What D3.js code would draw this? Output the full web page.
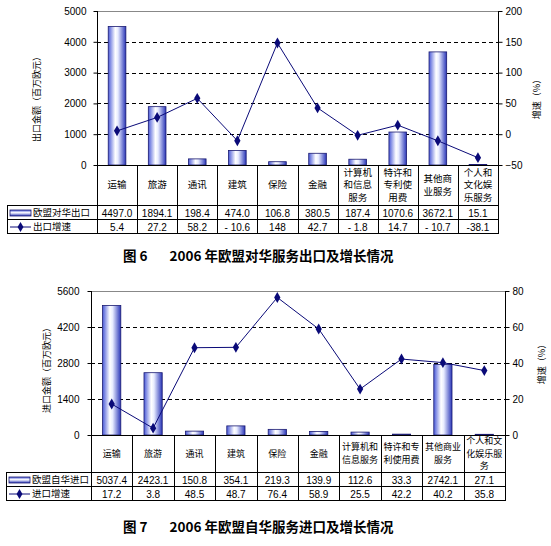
<!DOCTYPE html>
<html><head><meta charset="utf-8">
<script src="https://cdn.jsdelivr.net/npm/d3@7/dist/d3.min.js"></script>
<style>
body{margin:0;background:#fff;}
svg{display:block;font-family:"Noto Sans CJK SC","DejaVu Sans",sans-serif;}
</style></head>
<body><svg id="c" width="551" height="546"></svg>
<script>
// ---- Data ----
const exportCategories = ["运输","旅游","通讯","建筑","保险","金融","计算机\n和信息\n服务","特许和\n专利使\n用费","其他商\n业服务","个人和\n文化娱\n乐服务"];
const exportValues = [4497.0,1894.1,198.4,474.0,106.8,380.5,187.4,1070.6,3672.1,15.1];
const exportValueLabels = ["4497.0","1894.1","198.4","474.0","106.8","380.5","187.4","1070.6","3672.1","15.1"];
const exportGrowth = [5.4,27.2,58.2,-10.6,148,42.7,-1.8,14.7,-10.7,-38.1];
const exportGrowthLabels = ["5.4","27.2","58.2","- 10.6","148","42.7","- 1.8","14.7","- 10.7","-38.1"];
const exportLeftTicks = [0,1000,2000,3000,4000,5000];
const exportRightTicks = [-50,0,50,100,150,200];

const importCategories = ["运输","旅游","通讯","建筑","保险","金融","计算机和\n信息服务","特许和专\n利使用费","其他商业\n服务","个人和文\n化娱乐服\n务"];
const importValues = [5037.4,2423.1,150.8,354.1,219.3,139.9,112.6,33.3,2742.1,27.1];
const importValueLabels = ["5037.4","2423.1","150.8","354.1","219.3","139.9","112.6","33.3","2742.1","27.1"];
const importGrowth = [17.2,3.8,48.5,48.7,76.4,58.9,25.5,42.2,40.2,35.8];
const importGrowthLabels = ["17.2","3.8","48.5","48.7","76.4","58.9","25.5","42.2","40.2","35.8"];
const importLeftTicks = [0,1400,2800,4200,5600];
const importRightTicks = [0,20,40,60,80];

const svg = d3.select("#c");
const defs = svg.append("defs");
const g1 = defs.append("linearGradient").attr("id","barGrad").attr("x1","0").attr("x2","1").attr("y1","0").attr("y2","0");
[["0%","#4a5ad8"],["40%","#ffffff"],["55%","#e8ecff"],["100%","#2a36b8"]].forEach(s=>g1.append("stop").attr("offset",s[0]).attr("stop-color",s[1]));
const g2 = defs.append("linearGradient").attr("id","legGrad").attr("x1","0").attr("x2","0").attr("y1","0").attr("y2","1");
[["0%","#4a5ad8"],["45%","#ffffff"],["100%","#2a36b8"]].forEach(s=>g2.append("stop").attr("offset",s[0]).attr("stop-color",s[1]));

const LINE = "#0a0a78";
const NUMFONT = "Arial, 'Liberation Sans', sans-serif";

function drawChart(cfg){
  const g = svg.append("g");
  const n = cfg.cats.length;
  const x = d3.scaleBand().domain(d3.range(n)).range([cfg.left,cfg.right]).paddingInner(0).paddingOuter(0);
  const yL = d3.scaleLinear().domain([cfg.leftTicks[0],cfg.leftTicks[cfg.leftTicks.length-1]]).range([cfg.bottom,cfg.top]);
  const yR = d3.scaleLinear().domain([cfg.rightTicks[0],cfg.rightTicks[cfg.rightTicks.length-1]]).range([cfg.bottom,cfg.top]);

  // top border
  g.append("line").attr("x1",cfg.left).attr("x2",cfg.right).attr("y1",cfg.top+0.5).attr("y2",cfg.top+0.5).attr("stroke","#888");
  // gridlines
  g.selectAll(".grid").data(cfg.leftTicks.slice(1,-1)).join("line")
    .attr("x1",cfg.left).attr("x2",cfg.right)
    .attr("y1",d=>Math.round(yL(d))+0.5).attr("y2",d=>Math.round(yL(d))+0.5)
    .attr("stroke","#000").attr("stroke-dasharray","4,3");

  // bars
  const bw = x.bandwidth()*0.44;
  g.selectAll(".bar").data(cfg.values).join("rect")
    .attr("x",(d,i)=>x(i)+(x.bandwidth()-bw)/2).attr("width",bw)
    .attr("y",d=>yL(d)).attr("height",d=>cfg.bottom-yL(d))
    .attr("fill","url(#barGrad)").attr("stroke","#1a1a70").attr("stroke-width",0.8);

  // axes
  const axL = d3.axisLeft(yL).tickValues(cfg.leftTicks).tickFormat(d3.format("d")).tickSize(4).tickPadding(cfg.leftPad);
  const gL = g.append("g").attr("transform",`translate(${cfg.left+0.5},0)`).call(axL);
  gL.select(".domain").remove();
  gL.selectAll("text").attr("font-size",10).attr("font-family",NUMFONT).attr("fill","#000");
  const axR = d3.axisRight(yR).tickValues(cfg.rightTicks).tickFormat(d3.format("d")).tickSize(4).tickPadding(cfg.rightPad);
  const gR = g.append("g").attr("transform",`translate(${cfg.right+0.5},0)`).call(axR);
  gR.select(".domain").remove();
  gR.selectAll("text").attr("font-size",10).attr("font-family",NUMFONT).attr("fill","#000");

  // line
  const line = d3.line().x((d,i)=>x(i)+x.bandwidth()/2).y(d=>yR(d));
  g.append("path").datum(cfg.growth).attr("d",line).attr("fill","none").attr("stroke",LINE).attr("stroke-width",1);
  g.selectAll(".pt").data(cfg.growth).join("path")
    .attr("d",d3.symbol(d3.symbolDiamond,34))
    .attr("transform",(d,i)=>`translate(${x(i)+x.bandwidth()/2},${yR(d)})`)
    .attr("fill",LINE);

  // table lines
  const S = "#000";
  const hl = (y,x1,x2)=>g.append("line").attr("x1",x1).attr("x2",x2).attr("y1",Math.round(y)+0.5).attr("y2",Math.round(y)+0.5).attr("stroke",S);
  const vl = (xx,y1,y2)=>g.append("line").attr("x1",Math.round(xx)+0.5).attr("x2",Math.round(xx)+0.5).attr("y1",y1).attr("y2",y2).attr("stroke",S);
  hl(cfg.bottom,cfg.left,cfg.right);
  hl(cfg.catBottom,cfg.tableLeft,cfg.right);
  hl(cfg.row1Bottom,cfg.tableLeft,cfg.right);
  hl(cfg.row2Bottom,cfg.tableLeft,cfg.right+1);
  vl(cfg.left,cfg.top,cfg.row2Bottom);
  vl(cfg.right,cfg.top,cfg.row2Bottom);
  vl(cfg.tableLeft,cfg.catBottom,cfg.row2Bottom);
  d3.range(1,n).forEach(i=>vl(x(i),cfg.bottom,cfg.row2Bottom));

  // category labels
  const catMid = (cfg.bottom+cfg.catBottom)/2;
  cfg.cats.forEach((c,i)=>{
    const lines = c.split("\n");
    const lh = cfg.lineH;
    lines.forEach((t,k)=>{
      g.append("text").attr("x",x(i)+x.bandwidth()/2)
        .attr("y",catMid+(k-(lines.length-1)/2)*lh)
        .attr("dy","0.36em").attr("text-anchor","middle").attr("font-size",cfg.catFont).text(t);
    });
  });
  // value rows
  const r1 = (cfg.catBottom+cfg.row1Bottom)/2+1, r2 = (cfg.row1Bottom+cfg.row2Bottom)/2+1;
  cfg.valueLabels.forEach((v,i)=>g.append("text").attr("x",x(i)+x.bandwidth()/2).attr("y",r1).attr("dy","0.36em")
    .attr("text-anchor","middle").attr("font-size",10).attr("font-family",NUMFONT).text(v));
  cfg.growthLabels.forEach((v,i)=>g.append("text").attr("x",x(i)+x.bandwidth()/2).attr("y",r2).attr("dy","0.36em")
    .attr("text-anchor","middle").attr("font-size",10).attr("font-family",NUMFONT).text(v));

  // legend
  const lx = cfg.tableLeft+3;
  g.append("rect").attr("x",lx).attr("y",r1-3).attr("width",21).attr("height",6)
    .attr("fill","url(#legGrad)").attr("stroke","#1a1a70").attr("stroke-width",0.8);
  g.append("text").attr("x",lx+23).attr("y",r1).attr("dy","0.36em").attr("font-size",9.5).text(cfg.barName);
  g.append("line").attr("x1",lx).attr("x2",lx+21).attr("y1",r2).attr("y2",r2).attr("stroke",LINE);
  g.append("path").attr("d",d3.symbol(d3.symbolDiamond,30)).attr("transform",`translate(${lx+10.5},${r2})`).attr("fill",LINE);
  g.append("text").attr("x",lx+23).attr("y",r2).attr("dy","0.36em").attr("font-size",9.5).text(cfg.lineName);

  // axis titles
  g.append("text").attr("transform",`translate(${cfg.leftTitleX},${cfg.leftTitleY}) rotate(-90)`)
    .attr("text-anchor","middle").attr("dy","0.36em").attr("font-size",9).text(cfg.leftTitle);
  g.append("text").attr("transform",`translate(${cfg.rightTitleX},${cfg.rightTitleY}) rotate(-90)`)
    .attr("text-anchor","middle").attr("dy","0.36em").attr("font-size",9).text(cfg.rightTitle);

  // title
  const t = g.append("text").attr("x",cfg.titleX).attr("y",cfg.titleY).attr("dy","0.36em")
    .attr("font-size",13.5).attr("font-weight","bold");
  t.append("tspan").text(cfg.titleA);
  t.append("tspan").attr("dx",22).text(cfg.titleB);
}

drawChart({
  cats:exportCategories, values:exportValues, growth:exportGrowth,
  valueLabels:exportValueLabels, growthLabels:exportGrowthLabels,
  leftTicks:exportLeftTicks, rightTicks:exportRightTicks,
  left:97, right:498, top:11, bottom:165, catBottom:205, row1Bottom:219, row2Bottom:233, tableLeft:7,
  leftPad:7, rightPad:3, lineH:12.5, catFont:9.5,
  barName:"欧盟对华出口", lineName:"出口增速",
  leftTitle:"出口金额（百万欧元）", leftTitleX:37, leftTitleY:97,
  rightTitle:"增速（%）", rightTitleX:537, rightTitleY:97,
  titleX:123, titleY:256, titleA:"图 6", titleB:"2006 年欧盟对华服务出口及增长情况"
});
drawChart({
  cats:importCategories, values:importValues, growth:importGrowth,
  valueLabels:importValueLabels, growthLabels:importGrowthLabels,
  leftTicks:importLeftTicks, rightTicks:importRightTicks,
  left:91, right:505, top:291, bottom:435, catBottom:472, row1Bottom:486, row2Bottom:500, tableLeft:6,
  leftPad:8, rightPad:3, lineH:12.5, catFont:9,
  barName:"欧盟自华进口", lineName:"进口增速",
  leftTitle:"进口金额（百万欧元）", leftTitleX:47, leftTitleY:368,
  rightTitle:"增速（%）", rightTitleX:542, rightTitleY:362,
  titleX:123, titleY:527, titleA:"图 7", titleB:"2006 年欧盟自华服务进口及增长情况"
});
</script></body></html>
